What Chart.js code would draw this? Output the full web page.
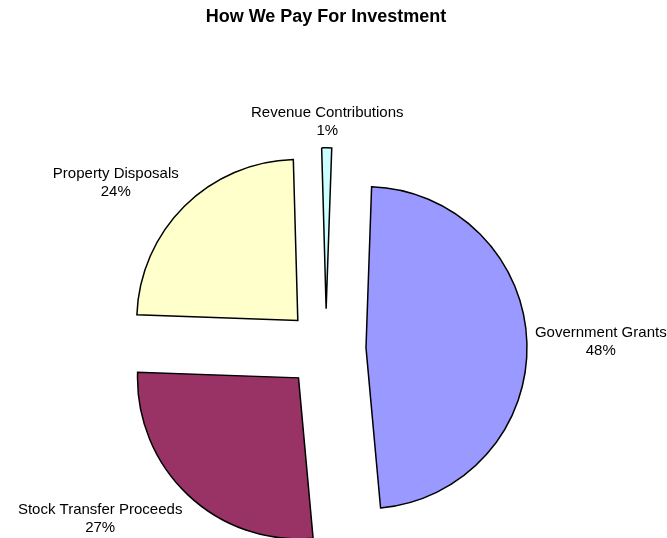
<!DOCTYPE html>
<html>
<head>
<meta charset="utf-8">
<title>How We Pay For Investment</title>
<script src="https://cdn.jsdelivr.net/npm/chart.js@4.4.1/dist/chart.umd.min.js"></script>
<style>
  html, body { margin: 0; padding: 0; background: #fff; }
  #wrap { position: relative; width: 667px; height: 538px; }
</style>
</head>
<body>
<div id="wrap"><canvas id="pieChart"></canvas></div>
<script>
// Funding sources, clockwise from 12 o'clock
const labels = ['Government Grants', 'Stock Transfer Proceeds', 'Property Disposals', 'Revenue Contributions'];
const values = [48, 27, 24, 1];
const colors = ['#9999FF', '#993366', '#FFFFCC', '#CCFFFF'];

const FONT = '"Liberation Sans", Arial, sans-serif';
const RADIUS = 161;
const EXPLODE = 40;   // how far each slice is pulled out from the centre
const LINE_H = 18;

// Pie with every slice pushed out along its mid angle
class ExplodedPieController extends Chart.PieController {
  draw() {
    const ctx = this.chart.ctx;
    for (const arc of this._cachedMeta.data) {
      const mid = (arc.startAngle + arc.endAngle) / 2;
      ctx.save();
      ctx.translate(Math.cos(mid) * EXPLODE, Math.sin(mid) * EXPLODE);
      arc.draw(ctx);
      ctx.restore();
    }
  }
}
ExplodedPieController.id = 'explodedPie';
ExplodedPieController.defaults = Chart.PieController.defaults;
Chart.register(ExplodedPieController);

// Name + percentage outside the end of each slice
const sliceLabels = {
  id: 'sliceLabels',
  afterDatasetsDraw(chart) {
    const ctx = chart.ctx;
    const meta = chart.getDatasetMeta(0);
    const data = chart.data.datasets[0].data;
    const total = data.reduce((a, b) => a + b, 0);
    const clamp = v => Math.max(-1, Math.min(1, v / 0.5));
    ctx.save();
    ctx.font = '15px ' + FONT;
    ctx.fillStyle = '#000';
    ctx.textAlign = 'center';
    ctx.textBaseline = 'middle';
    meta.data.forEach((arc, i) => {
      const mid = (arc.startAngle + arc.endAngle) / 2;
      const dx = Math.cos(mid), dy = Math.sin(mid);
      const dist = arc.outerRadius + EXPLODE + 8;
      const lines = [chart.data.labels[i], Math.round(data[i] / total * 100) + '%'];
      const w = Math.max(...lines.map(t => ctx.measureText(t).width));
      const h = lines.length * LINE_H;
      const cx = arc.x + dx * dist + clamp(dx) * w / 2;
      const cy = arc.y + dy * dist + clamp(dy) * h / 2;
      lines.forEach((t, k) => ctx.fillText(t, cx, cy - h / 2 + LINE_H * (k + 0.5)));
    });
    ctx.restore();
  }
};

const pieChart = new Chart(document.getElementById('pieChart'), {
  type: 'explodedPie',
  data: {
    labels: labels,
    datasets: [
      {
        data: values,
        backgroundColor: colors,
        borderColor: '#000',
        borderWidth: 1.5,
        borderJoinStyle: 'miter',
        hoverOffset: 0,
        radius: RADIUS,
        rotation: 2,
        clip: false
      }
    ]
  },
  options: {
    responsive: true,
    maintainAspectRatio: false,
    animation: false,
    layout: { padding: { left: 0, right: 15, top: 0, bottom: 0 } },
    plugins: {
      legend: { display: false },
      tooltip: { enabled: false },
      title: {
        display: true,
        text: 'How We Pay For Investment',
        color: '#000',
        font: { family: FONT, size: 18, weight: 'bold' },
        padding: { top: 6, bottom: 132 }
      }
    }
  },
  plugins: [sliceLabels]
});
</script>
</body>
</html>
